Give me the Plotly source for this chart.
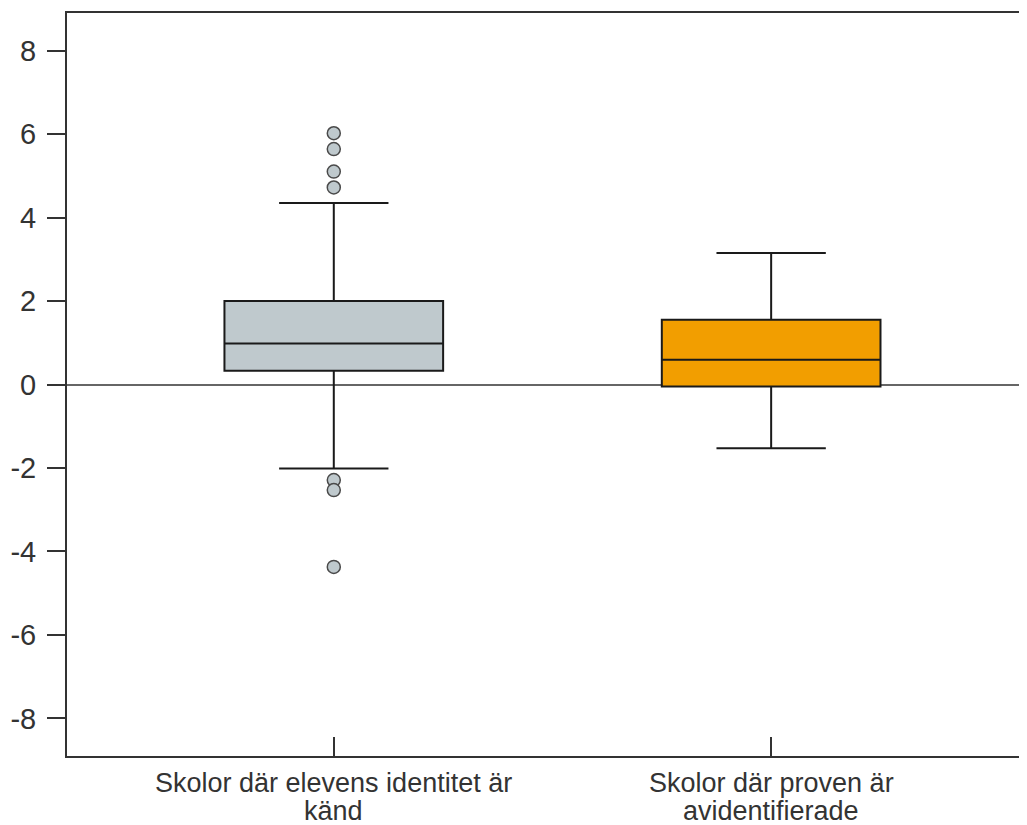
import plotly.graph_objects as go

categories = ["Skolor där elevens identitet är<br>känd", "Skolor där proven är<br>avidentifierade"]
q1 = [0.33, -0.05]
median = [0.98, 0.59]
q3 = [2.00, 1.55]
lower_whisker = [-2.01, -1.53]
upper_whisker = [4.35, 3.15]
outliers_group1 = [6.02, 5.64, 5.10, 4.72, -2.29, -2.53, -4.37]
y_ticks = [-8, -6, -4, -2, 0, 2, 4, 6, 8]
y_tick_labels = ["-8", "-6", "-4", "-2", "0", "2", "4", "6", "8"]

fill_colors = ["#BFC9CD", "#F29E00"]
line_col = "#1a1a1a"
font_fam = "Liberation Sans, Arial, sans-serif"

fig = go.Figure()
for i in range(len(categories)):
    fig.add_trace(go.Box(
        x=[i], q1=[q1[i]], median=[median[i]], q3=[q3[i]],
        lowerfence=[lower_whisker[i]], upperfence=[upper_whisker[i]],
        width=0.5, whiskerwidth=0.5, boxpoints=False,
        fillcolor=fill_colors[i], line=dict(color=line_col, width=2),
        showlegend=False, hoverinfo="skip"))

fig.add_trace(go.Scatter(
    x=[0] * len(outliers_group1), y=outliers_group1, mode="markers",
    marker=dict(size=13, color=fill_colors[0], line=dict(color="#4a4a4a", width=1.5)),
    showlegend=False, hoverinfo="skip"))

# category labels: each line placed separately for tight line spacing
for i, label in enumerate(categories):
    for j, line in enumerate(label.split("<br>")):
        fig.add_annotation(
            x=i, xref="x", y=0, yref="paper", yanchor="top",
            yshift=-11 - 28 * j, text=line, showarrow=False, borderpad=0,
            font=dict(family=font_fam, size=27, color="#333333"))

fig.update_layout(
    width=1019, height=817,
    margin=dict(l=59, r=0, t=5, b=69),
    paper_bgcolor="white", plot_bgcolor="white",
    font=dict(family=font_fam, color="#333333"),
    xaxis=dict(
        range=[-0.61, 1.585], tickvals=[0, 1], showticklabels=False,
        ticks="inside", ticklen=19, tickwidth=2, tickcolor="#333333",
        showline=True, linecolor="#333333", linewidth=2, mirror=True,
        showgrid=False, zeroline=False,
    ),
    yaxis=dict(
        range=[-8.9, 8.9], tickvals=y_ticks, ticktext=y_tick_labels,
        ticks="outside", ticklen=18, tickwidth=2, tickcolor="#333333",
        ticklabelstandoff=5,
        showline=True, linecolor="#333333", linewidth=2,
        showgrid=False, zeroline=True, zerolinecolor="#666666", zerolinewidth=2,
        tickfont=dict(size=29),
    ),
)

fig.write_html("out.html")
